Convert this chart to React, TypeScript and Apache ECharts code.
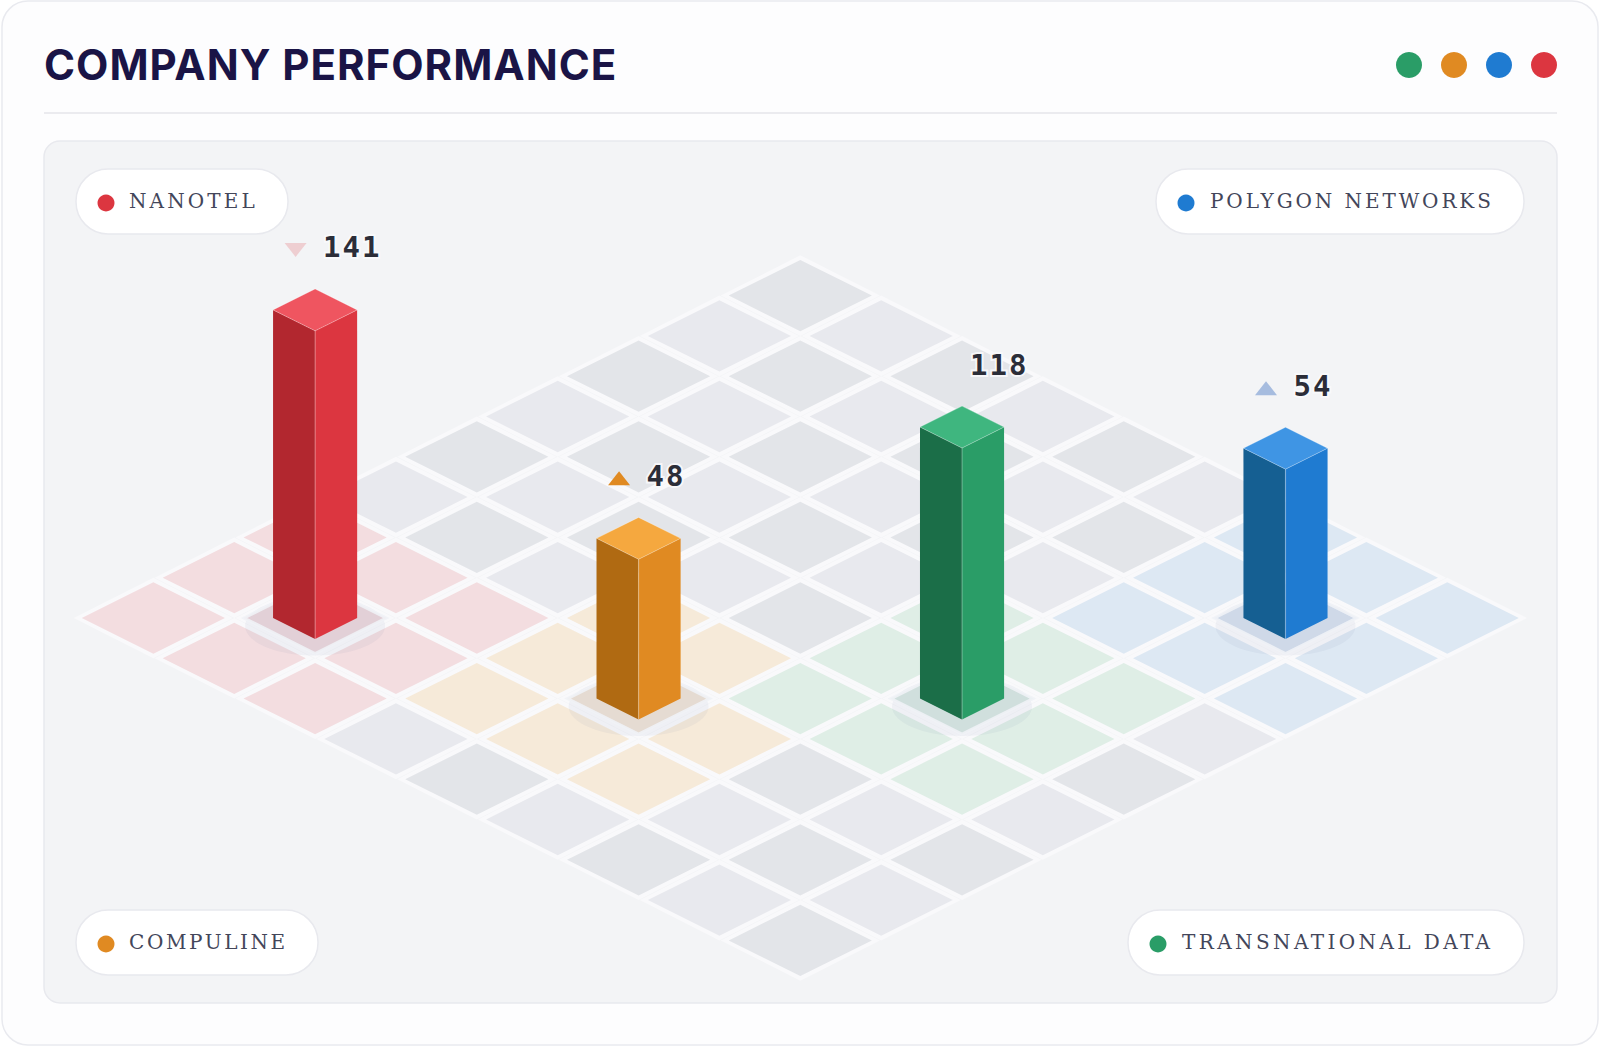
import React, { useEffect, useRef } from "react";
import * as echarts from "echarts";

const titleText = "COMPANY PERFORMANCE";
const companies = ["NANOTEL", "COMPULINE", "TRANSNATIONAL DATA", "POLYGON NETWORKS"];
const values = [141, 48, 118, 54];
const columns = [1, 4, 6, 7];
const rows = [7, 6, 4, 1];
const trends = ["down", "up", "none", "up"];
const trendOpacity = [0.2, 1, 0, 0.45];
const headerOrder = [2, 1, 3, 0];
const labelSpacing = [3.1, 2.6, 3.4, 2.9];

const mainColors = ["#dc3640", "#e08a22", "#2a9d67", "#1f7bd1"];
const topColors = ["#ef5560", "#f5a83f", "#3fb67f", "#3f95e4"];
const sideColors = ["#b2272f", "#b06a12", "#1b6e48", "#155f92"];
const tintColors = ["#f3dde0", "#f6ead9", "#dfeee6", "#dde8f3"];
const grayCells = ["#e3e5e9", "#e8e9ee"];

const GRID_SIZE = 9;
const REGION_RADIUS = 1;
const HEIGHT_BASE = 52.8; // value-axis offset of the column foot
const HEIGHT_SCALE = 0.03945; // rows of screen height per unit of value
const BAR_HALF = 0.52;
const TILE_SCALE = 0.885;
const OUTER_SCALE = 0.985;
const PLATE_PX_W = 71;
const PLATE_PX_H = 35.5;

const regionOf = (i: number, j: number) => {
  let found = -1;
  columns.forEach((c, k) => {
    if (Math.abs(i - c) <= REGION_RADIUS && Math.abs(j - rows[k]) <= REGION_RADIUS) found = k;
  });
  return found;
};

const cellData: number[][] = [];
for (let i = 0; i < GRID_SIZE; i++) {
  for (let j = 0; j < GRID_SIZE; j++) cellData.push([i, j, regionOf(i, j)]);
}

const pills = [
  { idx: 0, x: 76, y: 169, w: 212, dotX: 106, textX: 129 },
  { idx: 3, x: 1156, y: 169, w: 368, dotX: 1186, textX: 1210 },
  { idx: 1, x: 76, y: 910, w: 242, dotX: 106, textX: 129 },
  { idx: 2, x: 1128, y: 910, w: 396, dotX: 1158, textX: 1182 },
];

const SERIF = '"DejaVu Serif", serif';

const renderCell = (_p: any, api: any) => {
  const i = api.value(0);
  const j = api.value(1);
  const region = api.value(2);
  const cx = i - j;
  const cy = i + j + 1;
  const corner = (dc: number, dr: number) => api.coord([cx + dc, cy + dr]);
  const o = OUTER_SCALE;
  const outer = [corner(-o, 0), corner(0, -1), corner(o, 0), corner(0, 1)];
  const s = TILE_SCALE;
  const inner = [corner(-s, 0), corner(0, -s), corner(s, 0), corner(0, s)];
  const fill = region >= 0 ? tintColors[region] : grayCells[(i + j) % 2];
  return {
    type: "group",
    children: [
      { type: "polygon", shape: { points: outer }, style: { fill: "#f9f9fb" }, silent: true },
      { type: "polygon", shape: { points: inner }, style: { fill }, silent: true },
    ],
  };
};

const renderBar = (_p: any, api: any) => {
  const idx = _p.dataIndex;
  const i = api.value(0);
  const j = api.value(1);
  const v = api.value(2);
  const cx = i - j;
  const cy = i + j + 1;
  const lift = (v + HEIGHT_BASE) * HEIGHT_SCALE;
  const base = (dc: number, dr: number) => api.coord([cx + dc, cy + dr]);
  const top = (dc: number, dr: number) => api.coord([cx + dc, cy - lift + dr]);
  const h = BAR_HALF;
  const bL = base(-h, 0), bR = base(h, 0), bF = base(0, h);
  const tL = top(-h, 0), tR = top(h, 0), tF = top(0, h), tB = top(0, -h);
  const c = base(0, 0);
  const tc = top(0, 0);
  const edge = "rgba(255,255,255,0.28)";
  const children: any[] = [
    {
      type: "ellipse",
      shape: { cx: c[0], cy: c[1] + 8, rx: PLATE_PX_W - 1, ry: PLATE_PX_H - 6 },
      style: { fill: "rgba(90,100,150,0.06)" },
    },
    {
      type: "polygon",
      shape: {
        points: [
          [c[0] - PLATE_PX_W, c[1]],
          [c[0], c[1] - PLATE_PX_H],
          [c[0] + PLATE_PX_W, c[1]],
          [c[0], c[1] + PLATE_PX_H],
        ],
      },
      style: { fill: "rgba(90,100,150,0.05)", stroke: "rgba(240,242,246,0.9)", lineWidth: 3 },
    },
    { type: "polygon", shape: { points: [tL, tF, bF, bL] }, style: { fill: sideColors[idx] } },
    { type: "polygon", shape: { points: [tF, tR, bR, bF] }, style: { fill: mainColors[idx] } },
    {
      type: "polygon",
      shape: { points: [tL, tB, tR, tF] },
      style: { fill: topColors[idx], stroke: edge, lineWidth: 1 },
    },
    { type: "line", shape: { x1: tF[0], y1: tF[1], x2: bF[0], y2: bF[1] }, style: { stroke: edge, lineWidth: 1.2 } },
    {
      type: "text",
      x: tc[0] + 8,
      y: tc[1] - 62.5,
      style: {
        text: String(v),
        fill: "#2b2d38",
        font: 'bold 29px "DejaVu Sans Mono", monospace',
        textAlign: "left",
        textVerticalAlign: "middle",
        stroke: "rgba(250,250,252,0.85)",
        lineWidth: 4,
      },
    },
  ];
  const dir = trends[idx];
  if (dir !== "none") {
    const tx = tc[0] - 19.5;
    const ty = tc[1] - 60;
    const pts =
      dir === "up"
        ? [[tx - 11, ty + 7], [tx + 11, ty + 7], [tx, ty - 7]]
        : [[tx - 11, ty - 7], [tx + 11, ty - 7], [tx, ty + 7]];
    children.push({
      type: "polygon",
      shape: { points: pts },
      style: { fill: idx === 3 ? "#4a78c4" : mainColors[idx], opacity: trendOpacity[idx] },
    });
  }
  return { type: "group", children };
};

export default function App() {
  const ref = useRef<HTMLDivElement>(null);
  useEffect(() => {
    document.body.style.margin = "0";
    const chart = echarts.init(ref.current!, null, { renderer: "svg", width: 1600, height: 1047 });
    const graphics: any[] = [
      {
        type: "rect",
        shape: { x: 2, y: 1, width: 1596, height: 1044, r: 26 },
        style: { fill: "#fdfdfe", stroke: "#e9eaef", lineWidth: 1.5 },
      },
      {
        type: "line",
        shape: { x1: 44, y1: 113, x2: 1557, y2: 113 },
        style: { stroke: "#e4e5ea", lineWidth: 1.5 },
      },
      {
        type: "rect",
        shape: { x: 44, y: 141, width: 1513, height: 862, r: 16 },
        style: { fill: "#f3f4f6", stroke: "#e8e9ee", lineWidth: 1.5 },
      },
    ];
    headerOrder.forEach((k, n) => {
      graphics.push({
        type: "circle",
        shape: { cx: 1409 + n * 45, cy: 65, r: 13 },
        style: { fill: mainColors[k] },
      });
    });
    pills.forEach((p) => {
      graphics.push({
        type: "rect",
        shape: { x: p.x, y: p.y, width: p.w, height: 65, r: 32 },
        style: { fill: "#ffffff", stroke: "#e8e9ee", lineWidth: 1.5 },
      });
      graphics.push({
        type: "circle",
        shape: { cx: p.dotX, cy: p.y + 34, r: 8.5 },
        style: { fill: mainColors[p.idx] },
      });
      graphics.push({
        type: "text",
        x: p.textX,
        y: p.y + 32,
        style: {
          text: companies[p.idx],
          fill: "#43465a",
          font: `20px ${SERIF}`,
          textAlign: "left",
          textVerticalAlign: "middle",
        },
      });
    });
    chart.setOption({
      animation: false,
      title: {
        text: titleText,
        left: 39,
        top: 38.5,
        textStyle: { color: "#1a1446", fontSize: 42, fontWeight: 700, fontFamily: "Inter" },
      },
      grid: { left: 72.5, top: 255.3, width: 1455.6, height: 725.4 },
      xAxis: { type: "value", min: -GRID_SIZE, max: GRID_SIZE, show: false },
      yAxis: { type: "value", min: 0, max: GRID_SIZE * 2, inverse: true, show: false },
      graphic: { elements: graphics },
      series: [
        {
          type: "custom",
          coordinateSystem: "cartesian2d",
          clip: false,
          silent: true,
          encode: { x: 0, y: 1 },
          data: cellData,
          renderItem: renderCell,
          z: 2,
        },
        {
          type: "custom",
          coordinateSystem: "cartesian2d",
          clip: false,
          silent: true,
          encode: { x: 0, y: 1 },
          data: values.map((v, k) => [columns[k], rows[k], v]),
          renderItem: renderBar,
          z: 3,
        },
      ],
    });
    const dom = ref.current!;
    dom.querySelectorAll("text").forEach((el: any) => {
      const t = el.textContent || "";
      const labelIdx = companies.indexOf(t);
      if (t === titleText) el.style.letterSpacing = "1px";
      else if (labelIdx >= 0) el.style.letterSpacing = `${labelSpacing[labelIdx]}px`;
      else if (values.map(String).includes(t)) el.style.letterSpacing = "2px";
    });
    return () => chart.dispose();
  }, []);
  return <div ref={ref} style={{ position: "absolute", left: 0, top: 0, width: 1600, height: 1047 }} />;
}
